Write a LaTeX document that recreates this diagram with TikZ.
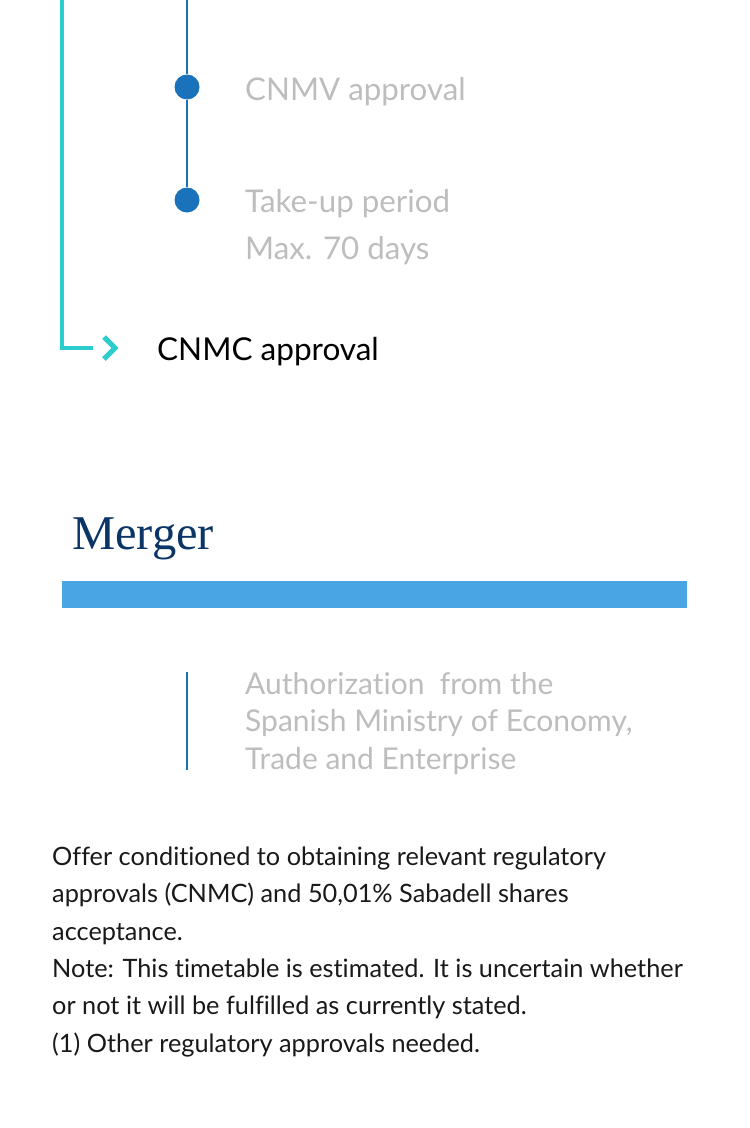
\documentclass[tikz,border=0pt]{standalone}
\usepackage{fontspec}
\setmainfont{Lato}[Ligatures=NoCommon]
\newfontfamily\headfont{Liberation Serif}
\usepackage{xcolor}
\usetikzlibrary{arrows.meta}
\definecolor{tealline}{HTML}{2ECDCD}
\definecolor{dotblue}{HTML}{1A72BA}
\definecolor{barblue}{HTML}{4AA5E5}
\definecolor{softgray}{HTML}{BDBDBD}
\definecolor{navy}{HTML}{0B3566}
\tikzset{%
  step dot/.style={circle, fill=dotblue, inner sep=0pt, minimum size=25pt},
  faded/.style={text=softgray, inner sep=0pt, anchor=base west, align=left},
}

\begin{document}
\begin{tikzpicture}[x=1pt,y=-1pt]
\useasboundingbox (0,0) rectangle (750,1128);
% timeline
\coordinate (tealtop) at (62,0);
\coordinate (tealcorner) at (62,348);
\coordinate (tealend) at (93,348);
\coordinate (bluetop) at (187,0);
\node[step dot] (cnmv) at (187,87) {};
\node[step dot] (takeup) at (187,200) {};
\draw[dotblue, line width=2pt] (bluetop) -- (cnmv) -- (takeup);
\draw[tealline, line width=3.5pt] (tealtop) -- (tealcorner) -- (tealend);
\draw[tealline, line width=5pt] (104,337) -- (115,348) -- (104,359);
% last baseline is the anchor of a multi-line node
\node[faded, font=\fontsize{31.3}{47}\selectfont] (cnmvtext) at (245,100) {CNMV approval};
\node[faded, font=\fontsize{31.3}{47}\selectfont] (takeuptext) at (245,259) {Take-up period\\Max. 70 days};
\node[inner sep=0pt, anchor=base west, font=\fontsize{31.5}{36}\selectfont] (cnmc) at (157,360) {CNMC approval};
% merger
\node[inner sep=0pt, anchor=base west, text=navy, font=\headfont\fontsize{48.5}{50}\selectfont] (merger) at (72,549) {Merger};
\fill[barblue] (62,581) rectangle (687,608);
\coordinate (authtop) at (187,672);
\coordinate (authbot) at (187,770);
\draw[dotblue, line width=2pt] (authtop) -- (authbot);
\node[faded, font=\fontsize{30}{37.5}\selectfont] (auth) at (245,769) {Authorization\ \ from the\\Spanish Ministry of Economy,\\Trade and Enterprise};
% notes
\node[inner sep=0pt, anchor=base west, align=left, text=black!90, font=\fontsize{25.3}{37.3}\selectfont] (notes) at (52,1052) {Offer conditioned to obtaining relevant regulatory\\approvals (CNMC) and 50,01\% Sabadell shares\\acceptance.\\Note: This timetable is estimated. It is uncertain whether\\or not it will be fulfilled as currently stated.\\(1) Other regulatory approvals needed.};
\end{tikzpicture}
\end{document}
